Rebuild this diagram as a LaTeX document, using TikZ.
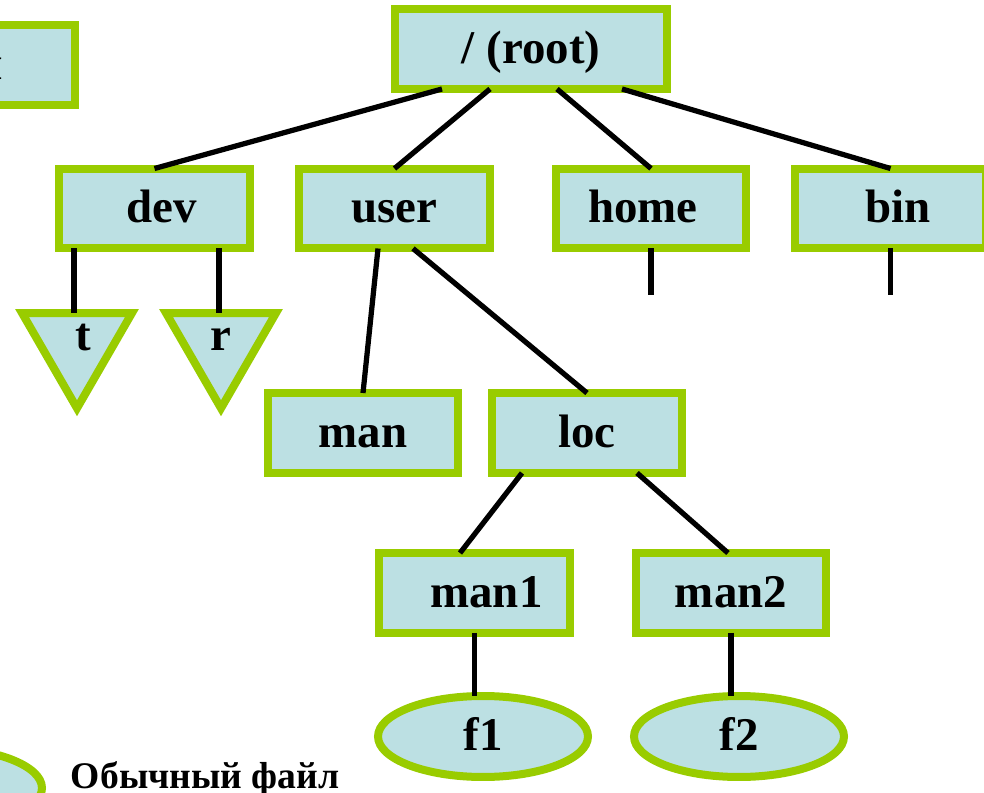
\documentclass[tikz,border=0pt]{standalone}
\usepackage{fontspec}
\setmainfont{Liberation Serif}
\usetikzlibrary{shapes.geometric,calc}
\definecolor{boxfill}{HTML}{BCE0E3}
\definecolor{boxedge}{HTML}{99CC00}
\begin{document}
\begin{tikzpicture}[x=0.02cm,y=-0.02cm,
  every node/.style={outer sep=0pt, inner sep=0pt},
  bigfont/.style={font=\fontsize{26.7}{32}\selectfont\bfseries, text height=20pt, text depth=4pt},
  shapebase/.style={draw=boxedge, fill=boxfill, line width=0.16cm, bigfont},
  dirbox/.style={shapebase, rectangle, minimum width=3.82cm, minimum height=1.6cm},
  filebox/.style={shapebase, ellipse, minimum width=4.2cm, minimum height=1.62cm},
  devbox/.style={shapebase, regular polygon, regular polygon sides=3,
                 shape border rotate=180, minimum size=2.54cm},
  devtext/.style={bigfont, yshift=0.16cm},
  link/.style={line width=0.105cm, line cap=butt}
]
\useasboundingbox (0,0) rectangle (984,793);
\clip (0,0) rectangle (984,793);

% legend
\node[dirbox, minimum width=0pt, inner xsep=1.44cm, anchor=east] (legdir) at (75,65) {Директория};
\node[filebox] (legfile) at (-63,788) {};
\node[font=\fontsize{21.4}{26}\selectfont\bfseries, anchor=base west] (legtext) at (71,788) {Обычный файл};

% directories
\node[dirbox, minimum width=5.44cm] (root) at (531,49) {/ (root)};
\node[dirbox] (dev)  at (154.5,208.5) {\hspace*{8pt}dev};
\node[dirbox] (user) at (394.5,208.5) {user};
\node[dirbox] (home) at (651,208.5)   {home\hspace*{9pt}};
\node[dirbox] (bin)  at (890.5,208.5) {\hspace*{8.5pt}bin};
\node[dirbox] (man)  at (363,433)     {man};
\node[dirbox] (loc)  at (587,433)     {loc};
\node[dirbox] (man1) at (474.5,593)   {\hspace*{13.6pt}man1};
\node[dirbox] (man2) at (731,593)     {man2};

% device files
\node[devbox, label={[devtext, xshift=0.13cm]center:t}] (tt) at (77,344.75) {};
\node[devbox, label={[devtext]center:r}] (rr) at (221,344.75) {};

% regular files
\node[filebox] (f1) at (483,736.5) {f1};
\node[filebox] (f2) at (739,736.5) {f2};

% tree links
\draw[link] ($(root.south)+(-89,0)$) -- (dev.north);
\draw[link] ($(root.south)+(-41,0)$) -- (user.north);
\draw[link] ($(root.south)+(26,0)$)  -- (home.north);
\draw[link] ($(root.south)+(91,0)$)  -- (bin.north);
\draw[link] ($(user.south)+(-16.5,0)$) -- (man.north);
\draw[link] ($(user.south)+(18.5,0)$)  -- (loc.north);
\draw[link] ($(loc.south)+(-65,0)$) -- ($(man1.north)+(-14.5,0)$);
\draw[link] ($(loc.south)+(50,0)$)  -- ($(man2.north)+(-3,0)$);
\draw[link] ($(dev.south)+(-80.5,0)$) coordinate (dt) -- (dt |- tt.north);
\draw[link] ($(dev.south)+(64.5,0)$)  coordinate (dr) -- (dr |- rr.north);
\draw[link] (man1.south) -- (man1.south |- f1.north);
\draw[link] (man2.south) -- (man2.south |- f2.north);
\coordinate (homeend) at ($(home.south)+(0,47)$);
\coordinate (binend)  at ($(bin.south)+(0,47)$);
\draw[link] (home.south) -- (homeend);
\draw[link] (bin.south) -- (binend);
\end{tikzpicture}
\end{document}
